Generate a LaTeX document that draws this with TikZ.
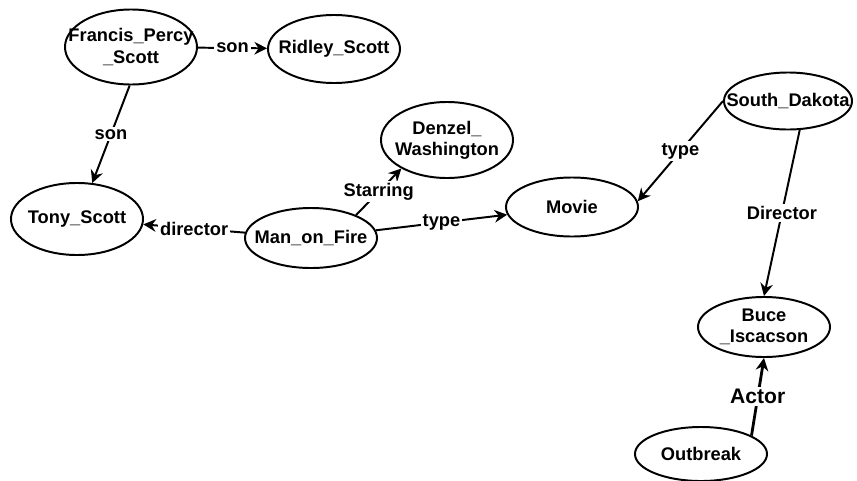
\documentclass[tikz,border=0pt]{standalone}
\usepackage{fontspec}
\setmainfont{Liberation Sans}
\usetikzlibrary{shapes.geometric,arrows.meta}
\begin{document}
\begin{tikzpicture}[x=0.025cm, y=-0.025cm, line width=1.4pt,
    >={Stealth[length=9pt,width=9pt,inset=3pt]},
    lbl/.style={align=center, inner sep=0pt, font=\fontsize{13}{15}\selectfont\bfseries},
    ent/.style={ellipse, draw, inner sep=0pt, minimum width=3.3cm, label={[lbl]center:#1}},
    rel/.style={fill=white, inner sep=1.5pt, font=\fontsize{13}{15}\selectfont\bfseries}]
    \useasboundingbox (0,0) rectangle (857,481);

    \node[ent={Francis\_Percy\\\_Scott}, minimum height=1.875cm] (fps) at (131,47) {};
    \node[ent={Ridley\_Scott}, minimum height=1.7cm] (ridley) at (334,49) {};
    \node[ent={Tony\_Scott}, minimum height=1.8cm] (tony) at (77,219) {};
    \node[ent={Man\_on\_Fire}, minimum height=1.5cm] (mof) at (311,238) {};
    \node[ent={Denzel\_\\Washington}, minimum height=1.9cm] (denzel) at (447,140) {};
    \node[ent={Movie}, minimum height=1.475cm] (movie) at (572,207) {};
    \node[ent={South\_Dakota}, minimum height=1.425cm, minimum width=3.2cm] (sd) at (788,101) {};
    \node[ent={Buce\\\_Iscacson}, minimum height=1.5cm] (buce) at (764,327) {};
    \node[ent={Outbreak}, minimum height=1.35cm] (outbreak) at (701,454) {};

    \draw[->] (fps) -- node[rel] {son} (ridley);
    \draw[->] (fps.-92) -- node[rel] {son} (tony.67);
    \draw[->] (mof) -- node[rel] {director} (tony);
    \draw[->] (mof.27) -- node[rel] {Starring} (denzel.212);
    \draw[->] (mof) -- node[rel] {type} (movie);
    \draw[->] (sd.180) -- node[rel] {type} (movie.5);
    \draw[->] (sd.-68) -- node[rel] {Director} (buce.north);
    \draw[->,line width=2pt] (outbreak.20) -- node[rel,font=\fontsize{15}{17}\selectfont\bfseries] {Actor} (buce.south);
\end{tikzpicture}
\end{document}
